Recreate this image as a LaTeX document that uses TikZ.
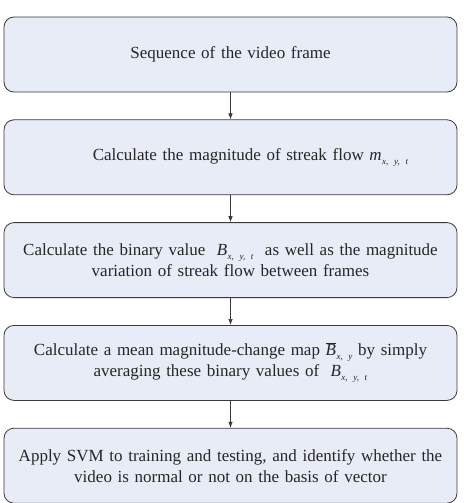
\documentclass[tikz,border=0pt]{standalone}
\usepackage{fontspec}
\setmainfont{Liberation Serif}
\usetikzlibrary{positioning,arrows.meta}
\definecolor{boxfill}{HTML}{E8ECF6}
\definecolor{boxline}{HTML}{3A3A3A}
\newcommand{\flowvar}[2]{#1\kern0.5pt\raisebox{-4pt}{\fontsize{9}{9}\selectfont\textit{#2}}}
\tikzset{
  stepbox/.style={draw=boxline, fill=boxfill, rounded corners=10pt, line width=0.8pt,
    minimum width=453pt, minimum height=75pt, text width=445pt, align=center,
    inner sep=0pt, text=black!85, font=\fontsize{17}{21}\selectfont},
  flow/.style={-{Latex[length=6pt,width=4.5pt]}, line width=0.6pt, draw=boxline}
}
\begin{document}
\begin{tikzpicture}[x=1pt,y=1pt]
        \useasboundingbox (0,0) rectangle (463,-503);
        \node[stepbox] (seq) at (230.5,-54.5) {Sequence of the video frame};
        \node[stepbox, below=27pt of seq] (mag) {\hspace*{40pt}Calculate the magnitude of streak flow \flowvar{\textit{m}}{x, y, t}};
        \node[stepbox, below=27pt of mag] (bin) {Calculate the binary value \ \flowvar{\textit{B}}{x, y, t} \ as well as the magnitude\\ variation of streak flow between frames};
        \node[stepbox, below=27pt of bin] (mean) {Calculate a mean magnitude-change map \flowvar{$\overline{\textit{B}}$}{x, y} by simply\\ averaging these binary values of \ \flowvar{\textit{B}}{x, y, t}};
        \node[stepbox, below=27pt of mean] (svm) {Apply SVM to training and testing, and identify whether the\\ video is normal or not on the basis of vector};
        \draw[flow] (seq) -- (mag);
        \draw[flow] (mag) -- (bin);
        \draw[flow] (bin) -- (mean);
        \draw[flow] (mean) -- (svm);
    \end{tikzpicture}
\end{document}
